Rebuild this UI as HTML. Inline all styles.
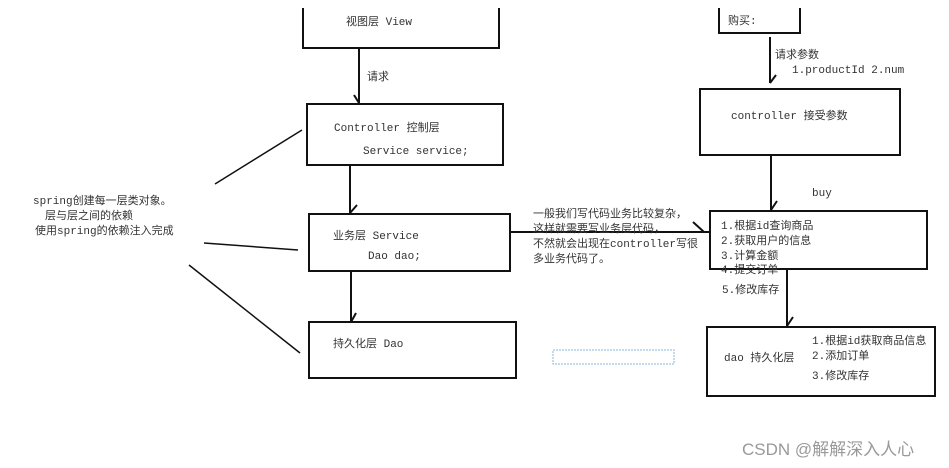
<!DOCTYPE html>
<html><head><meta charset="utf-8"><style>
html,body{margin:0;padding:0;background:#fff;width:949px;height:468px;overflow:hidden}
svg text{font-family:"Liberation Mono","Noto Sans CJK SC",monospace;font-size:11px;fill:#333}
</style></head><body>
<svg width="949" height="468" xmlns="http://www.w3.org/2000/svg">
<g stroke="#111" stroke-width="2" fill="none">
<path d="M303 8V48H499V8"/>
<path d="M359 48V103M354 95L359 103"/>
<rect x="307" y="104" width="196" height="61"/>
<path d="M350 165V213M350 213L357 205"/>
<rect x="309" y="214" width="201" height="57"/>
<path d="M351 271V322M351 322L356 313"/>
<rect x="309" y="322" width="207" height="56"/>
<path d="M719 8V33H800V8"/>
<path d="M770 37V83M770 83L776 75"/>
<rect x="700" y="89" width="200" height="66"/>
<path d="M771 155V210M771 210L777 201"/>
<rect x="710" y="211" width="217" height="58"/>
<path d="M510 232H709M693 222L704 232"/>
<path d="M787 269V326M787 326L793 317"/>
<rect x="707" y="327" width="228" height="69"/>
</g>
<g stroke="#111" stroke-width="1.5">
<line x1="215" y1="184" x2="302" y2="130"/>
<line x1="204" y1="243" x2="298" y2="250"/>
<line x1="189" y1="265" x2="300" y2="353"/>
</g>
<g stroke="#8ab4e0" stroke-width="1" stroke-dasharray="2,1" fill="none">
<rect x="553" y="350" width="121" height="14"/>
</g>
<text x="346" y="25">视图层 View</text>
<text x="367" y="80">请求</text>
<text x="334" y="131">Controller 控制层</text>
<text x="363" y="154">Service service;</text>
<text x="333" y="239">业务层 Service</text>
<text x="368" y="259">Dao dao;</text>
<text x="333" y="347">持久化层 Dao</text>
<text x="33" y="204" font-size="10.5">spring创建每一层类对象。</text>
<text x="45" y="219" font-size="10.5">层与层之间的依赖</text>
<text x="35" y="234" font-size="10.5">使用spring的依赖注入完成</text>
<text x="533" y="217">一般我们写代码业务比较复杂，</text>
<text x="533" y="232">这样就需要写业务层代码，</text>
<text x="533" y="247">不然就会出现在controller写很</text>
<text x="533" y="262">多业务代码了。</text>
<text x="728" y="24">购买:</text>
<text x="775" y="58">请求参数</text>
<text x="792" y="73">1.productId  2.num</text>
<text x="731" y="119">controller 接受参数</text>
<text x="812" y="196">buy</text>
<text x="721" y="229">1.根据id查询商品</text>
<text x="721" y="244">2.获取用户的信息</text>
<text x="721" y="259">3.计算金额</text>
<text x="721" y="273">4.提交订单</text>
<text x="722" y="293">5.修改库存</text>
<text x="724" y="361">dao 持久化层</text>
<text x="812" y="344">1.根据id获取商品信息</text>
<text x="812" y="359">2.添加订单</text>
<text x="812" y="379">3.修改库存</text>
<text x="742" y="455" style="font-family:'Liberation Sans','Noto Sans CJK SC',sans-serif;font-size:17px;fill:#999">CSDN @解解深入人心</text>
</svg>
</body></html>
